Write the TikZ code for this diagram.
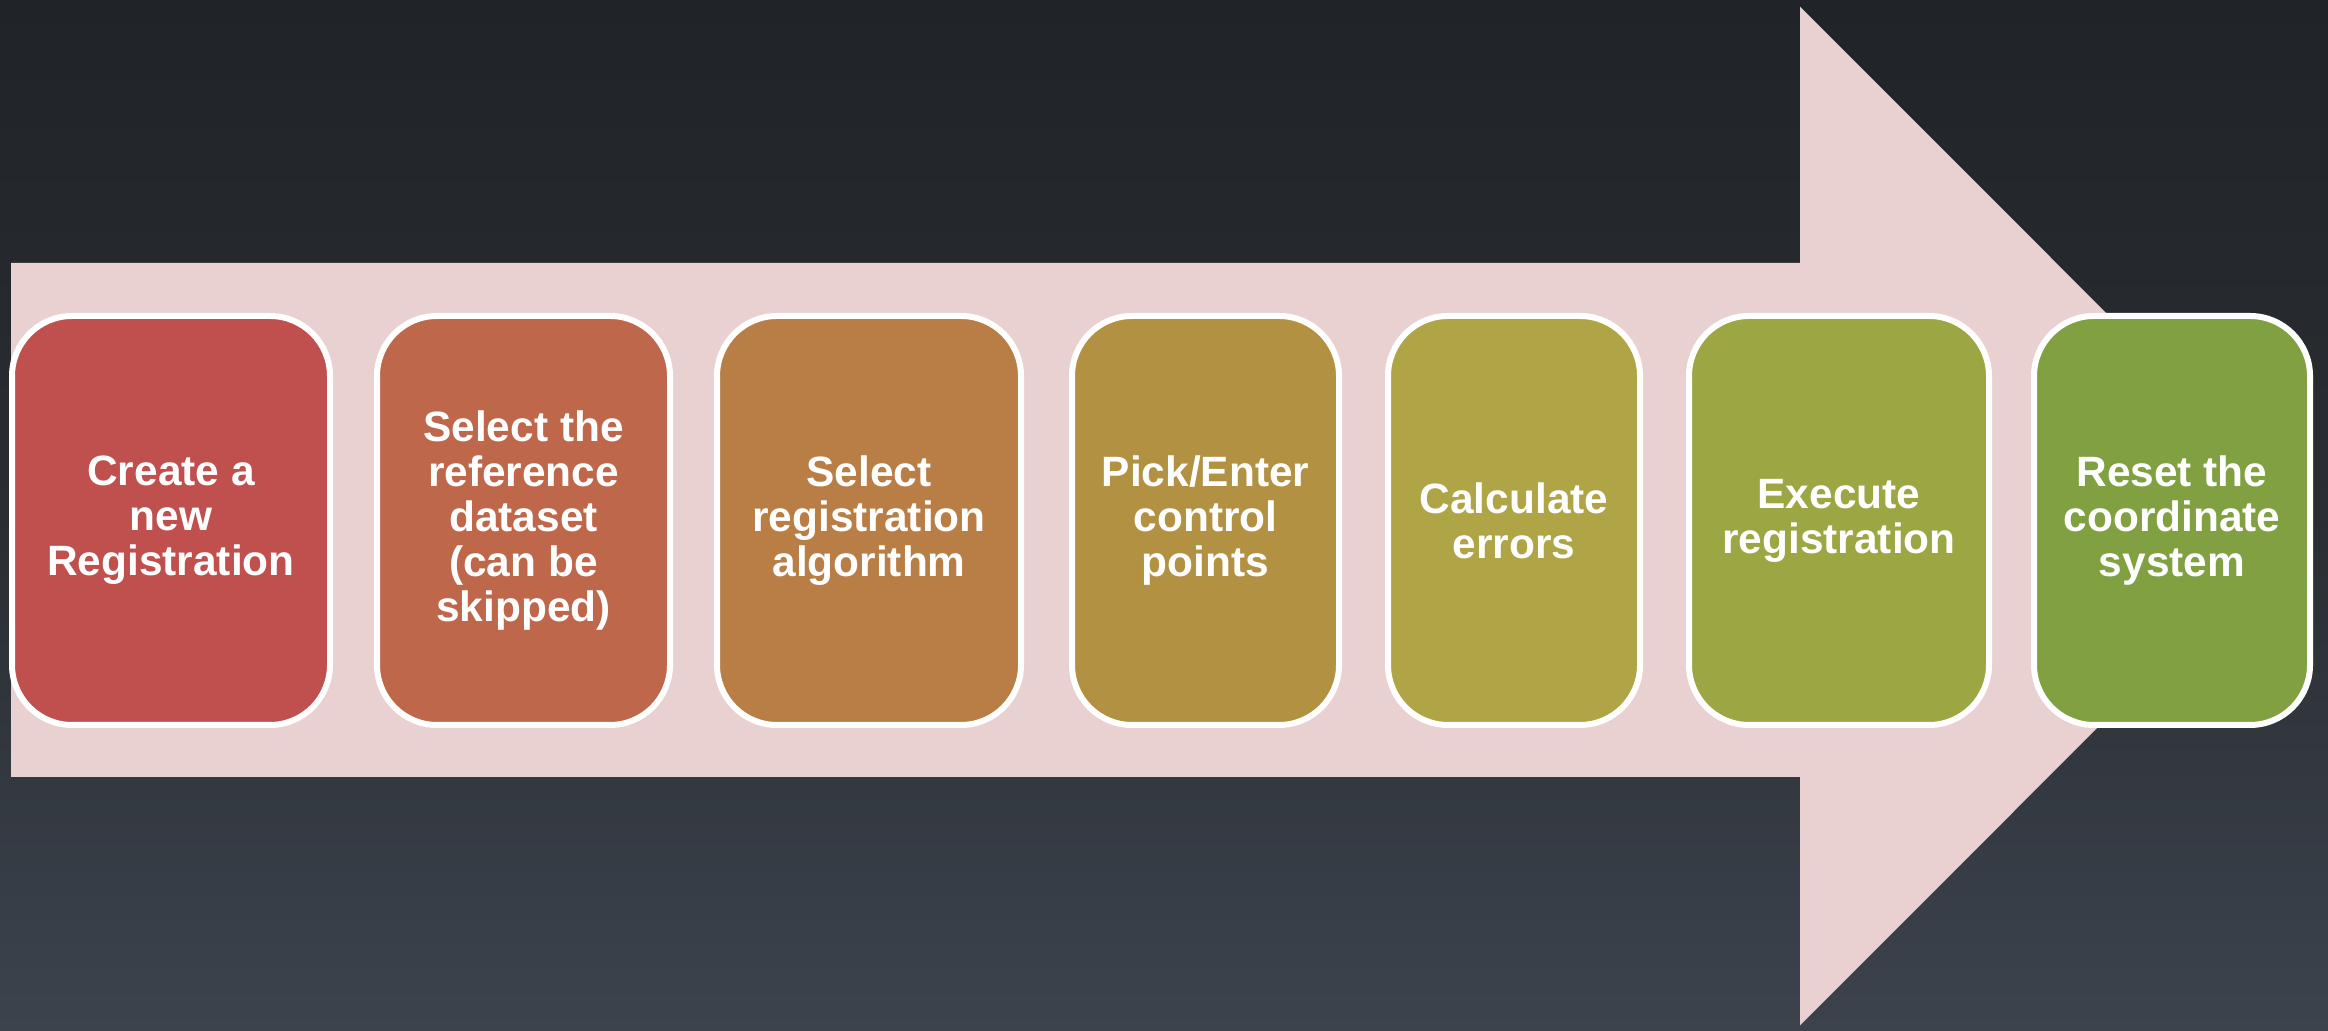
\documentclass[tikz,border=0pt]{standalone}
\usepackage{fontspec}
\setmainfont{Liberation Sans}
\definecolor{bgtop}{HTML}{202327}
\definecolor{bgmid}{HTML}{2A2E33}
\definecolor{bgbot}{HTML}{3C434D}
\definecolor{arrowfill}{HTML}{E8D1D0}
\definecolor{cA}{HTML}{C0504D}
\definecolor{cB}{HTML}{BE674A}
\definecolor{cC}{HTML}{B97D46}
\definecolor{cD}{HTML}{B39143}
\definecolor{cE}{HTML}{AFA446}
\definecolor{cF}{HTML}{9CA643}
\definecolor{cG}{HTML}{80A042}
\tikzset{
  stepbox/.style={draw=white, line width=3pt, rounded corners=30pt,
    minimum height=204.5pt, inner sep=2pt, align=center,
    text=white, font=\bfseries\fontsize{21.2}{22.5}\selectfont},
  bigarrow/.style={fill=arrowfill, draw=none}
}
\begin{document}
\begin{tikzpicture}[x=0.5pt, y=0.5pt]
\useasboundingbox (0,0) rectangle (2328,1031);
\shade[top color=bgtop, bottom color=bgbot, middle color=bgmid] (0,0) rectangle (2328,1031);
\fill[bigarrow] (11,768) -- (1800,768) -- (1800,1024.4) -- (2309,515) -- (1800,5.6) -- (1800,254) -- (11,254) -- cycle;
\node[stepbox, fill=cA, minimum width=159pt] (s1) at (171,510.5) {Create a\\new\\Registration};
\node[stepbox, fill=cB, minimum width=146.5pt] (s2) at (523.5,510.5) {Select the\\reference\\dataset\\(can be\\skipped)};
\node[stepbox, fill=cC, minimum width=152pt] (s3) at (869,510.5) {Select\\registration\\algorithm};
\node[stepbox, fill=cD, minimum width=133.5pt] (s4) at (1205.5,510.5) {Pick/Enter\\control\\points};
\node[stepbox, fill=cE, minimum width=126pt] (s5) at (1514,510.5) {Calculate\\errors};
\node[stepbox, fill=cF, minimum width=150pt] (s6) at (1839,510.5) {Execute\\registration};
\node[stepbox, fill=cG, minimum width=138pt] (s7) at (2172,510.5) {Reset the\\coordinate\\system};
\end{tikzpicture}
\end{document}
